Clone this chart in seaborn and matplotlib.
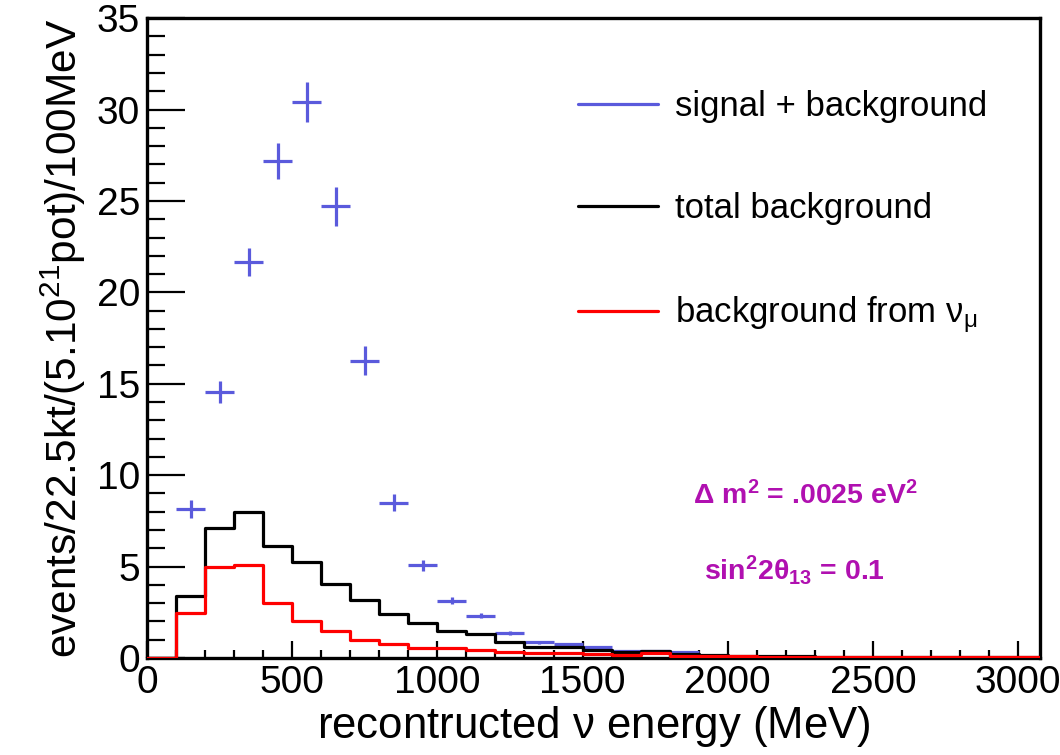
import numpy as np
import pandas as pd
import matplotlib
matplotlib.use("Agg")
import matplotlib.pyplot as plt
import seaborn as sns
from matplotlib.lines import Line2D
from matplotlib.ticker import MultipleLocator

# ---- data ----
bin_edges = list(range(0, 3200, 100))  # 0..3100 MeV, 100 MeV bins
bin_centers = [e + 50 for e in bin_edges[:-1]]

total_background = [0.0, 3.4, 7.1, 8.0, 6.15, 5.25, 4.05, 3.18, 2.4, 1.9,
                    1.5, 1.3, 0.9, 0.6, 0.6, 0.45, 0.3, 0.4, 0.2, 0.15,
                    0.12, 0.1, 0.1, 0.08, 0.08, 0.08, 0.06, 0.06, 0.05, 0.05, 0.05]
numu_background = [0.0, 2.45, 4.97, 5.08, 3.03, 2.0, 1.5, 1.0, 0.78, 0.57,
                   0.53, 0.42, 0.35, 0.28, 0.26, 0.22, 0.15, 0.26, 0.12, 0.1,
                   0.09, 0.08, 0.08, 0.07, 0.07, 0.06, 0.06, 0.05, 0.05, 0.05, 0.05]

sig_centers = [150, 250, 350, 450, 550, 650, 750, 850, 950, 1050,
               1150, 1250, 1350, 1450, 1550, 1650, 1750, 1850]
sig_values = [8.15, 14.56, 21.66, 27.2, 30.4, 24.7, 16.27, 8.5, 5.06, 3.14,
              2.32, 1.36, 0.85, 0.77, 0.6, 0.4, 0.4, 0.3]
sig_errors = [0.5, 0.61, 0.76, 0.98, 1.1, 1.05, 0.79, 0.47, 0.3, 0.21,
              0.15, 0.12, 0.08, 0.07, 0.06, 0.05, 0.05, 0.04]

legend_labels = ["signal + background", "total background", r"background from $\nu_{\mu}$"]
annot_dm2 = r"$\Delta$ m$^{2}$ = .0025 eV$^{2}$"
annot_sin = r"sin$^{2}$2$\theta_{13}$ = 0.1"

BLUE = "#5a5adc"
MAGENTA = "#b010b0"

# ---- style ----
sns.set_theme(style="white")
plt.rcParams["font.family"] = ["Liberation Sans", "DejaVu Sans"]
plt.rcParams["mathtext.fontset"] = "custom"
plt.rcParams["mathtext.rm"] = "Liberation Sans"
plt.rcParams["mathtext.it"] = "Liberation Sans:italic"
plt.rcParams["mathtext.bf"] = "Liberation Sans:bold"
plt.rcParams["mathtext.default"] = "regular"
plt.rcParams["text.color"] = "black"
plt.rcParams["axes.labelcolor"] = "black"

fig = plt.figure(figsize=(10.6, 7.55), dpi=100)
ax = fig.add_axes([0.1387, 0.1285, 0.8423, 0.8475])

df_bg = pd.DataFrame({"E": bin_centers, "tot": total_background, "numu": numu_background})

ax.errorbar(sig_centers, sig_values, xerr=50, yerr=sig_errors, fmt="none",
            ecolor=BLUE, elinewidth=2.3, capsize=0, zorder=3)
sns.histplot(data=df_bg, x="E", weights="tot", bins=bin_edges, element="step",
             fill=False, color="black", linewidth=2.3, ax=ax, zorder=4)
sns.histplot(data=df_bg, x="E", weights="numu", bins=bin_edges, element="step",
             fill=False, color="#ff0000", linewidth=2.3, ax=ax, zorder=5)

ax.set_xlim(0, 3075)
ax.set_ylim(0, 35)
ax.xaxis.set_major_locator(MultipleLocator(500))
ax.xaxis.set_minor_locator(MultipleLocator(100))
ax.yaxis.set_major_locator(MultipleLocator(5))
ax.yaxis.set_minor_locator(MultipleLocator(1))
ax.tick_params(axis="both", which="both", direction="in", colors="black",
               labelsize=28, width=1.6)
ax.tick_params(axis="x", which="major", length=12, pad=5)
ax.tick_params(axis="x", which="minor", length=6)
ax.tick_params(axis="y", which="major", length=27, pad=5)
ax.tick_params(axis="y", which="minor", length=13)
ax.tick_params(bottom=True, left=True, top=False, right=False, which="both")

for s in ax.spines.values():
    s.set_visible(True)
    s.set_color("black")
    s.set_linewidth(2.4)

ax.set_xlabel(r"recontructed $\nu$ energy (MeV)", fontsize=31.5, labelpad=2, color="black")
ax.set_ylabel(r"events/22.5kt/(5.10$^{21}$pot)/100MeV", fontsize=30.5, labelpad=6, color="black")

handles = [Line2D([], [], color=BLUE, lw=2.3),
           Line2D([], [], color="black", lw=2.3),
           Line2D([], [], color="#ff0000", lw=2.3)]
leg = ax.legend(handles, legend_labels, loc="upper left", bbox_to_anchor=(0.483, 0.888),
                frameon=False, fontsize=25, handlelength=2.3, handletextpad=0.5,
                labelspacing=2.0, borderpad=0, borderaxespad=0)
for t in leg.get_texts():
    t.set_color("black")

ax.text(2269, 8.9, annot_dm2, color=MAGENTA, fontsize=20.5, fontweight="bold",
        ha="center", va="center")
ax.text(2230, 4.8, annot_sin, color=MAGENTA, fontsize=20.5, fontweight="bold",
        ha="center", va="center")

fig.savefig("out.png", dpi=100)
